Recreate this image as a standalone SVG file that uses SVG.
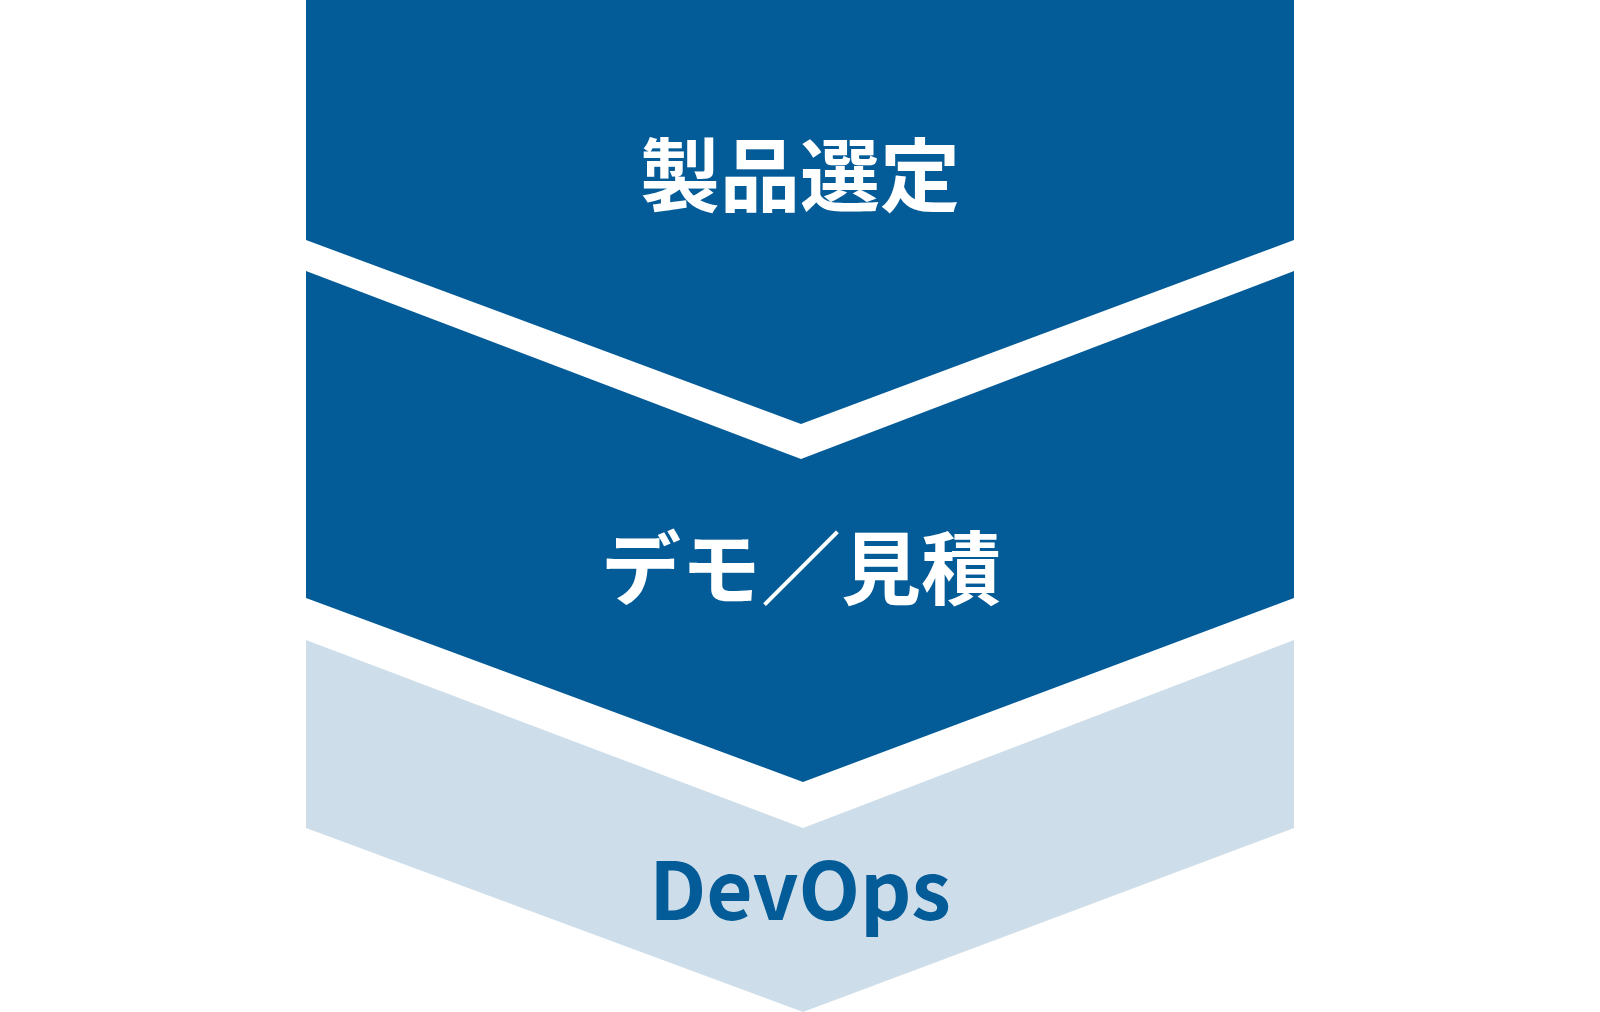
<svg xmlns="http://www.w3.org/2000/svg" width="1600" height="1012" viewBox="0 0 1600 1012">
<style>
.dark{fill:#035B97}
.light{fill:#CDDEEA}
.lbl{font-family:"Noto Sans CJK JP","Noto Sans",sans-serif;font-weight:700;font-size:80px;text-anchor:middle}
</style>
<rect width="1600" height="1012" fill="#FFFFFF"/>
<g id="step1">
<polygon class="dark" points="306,0 1294,0 1294,240 801,424 306,240"/>
<text class="lbl" x="800" y="205" fill="#FFFFFF">製品選定</text>
</g>
<g id="step2">
<polygon class="dark" points="306,271 801,459 1294,271 1294,598 803,782 306,598"/>
<text class="lbl" x="801" y="598" fill="#FFFFFF">デモ／見積</text>
</g>
<g id="step3">
<polygon class="light" points="306,640 803,828 1294,640 1294,828 803,1012 306,828"/>
<text class="lbl" x="800" y="920" fill="#035B97">DevOps</text>
</g>
<g id="connectors"></g>
</svg>
